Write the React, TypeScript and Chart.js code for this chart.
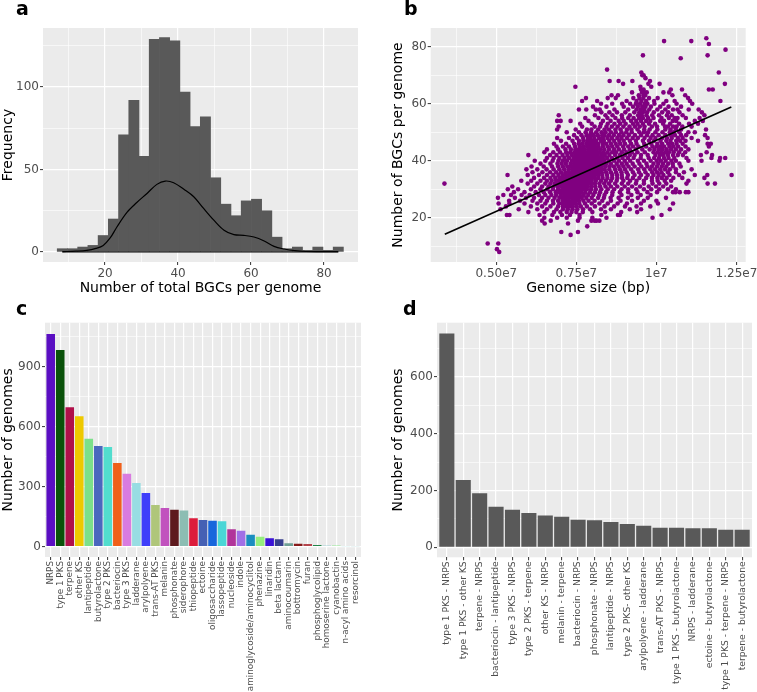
import React, { useEffect, useRef } from "react";
import { Chart, registerables } from "chart.js";

Chart.register(...registerables);

const FONT = "'DejaVu Sans', 'Liberation Sans', Arial, sans-serif";
Chart.defaults.font.family = FONT;

// ---------------- panel a: histogram ----------------
const histBinCenters = [8.3, 11.1, 13.9, 16.7, 19.5, 22.3, 25.1, 27.9, 30.7, 33.5, 36.3, 39.1, 41.9, 44.7, 47.5, 50.3, 53.1, 55.9, 58.7, 61.5, 64.3, 67.1, 69.9, 72.7, 75.5, 78.3, 81.1, 83.9];
const histFrequencies = [2, 2, 3, 4, 10, 20, 71, 92, 58, 129, 130, 128, 97, 76, 82, 45, 29, 22, 31, 32, 25, 9, 2, 3, 1, 3, 1, 3];
const densityX = [8.3, 12, 15, 17.5, 19.5, 21.4, 23.2, 26, 28.7, 31.5, 34.2, 36.5, 38.8, 41.6, 44.3, 47, 49.8, 52.6, 55.3, 58, 60.8, 63.6, 66.3, 69.1, 72, 75, 79, 83.9];
const densityY = [0.2, 0.5, 1.0, 2.2, 4, 8.5, 15, 24, 30, 35.5, 41, 43, 42, 38, 33.5, 26.4, 19.3, 13.2, 10.5, 10.1, 9.1, 6.7, 3.4, 1.8, 0.8, 0.3, 0.2, 0.2];
const aXMajor = [20, 40, 60, 80];
const aXMinor = [10, 30, 50, 70];
const aYMajor = [0, 50, 100];
const aYMinor = [25, 75, 125];

// ---------------- panel b: scatter (BGC count, genome sizes in Mb) ----------------
const bgcRows: [number, number[]][] = [
  [83, [11.56]],
  [82, [10.24, 11.09]],
  [81, [11.64]],
  [79, [12.16]],
  [77, [9.58, 11.6]],
  [76, [10.76]],
  [72, [8.46]],
  [71, [9.53, 11.95]],
  [70, [9.56, 9.6]],
  [69, [9.66]],
  [68, [8.54, 8.82, 9.25, 9.8]],
  [67, [8.96, 9.75, 10.1, 12.14]],
  [66, [7.47, 9.5, 9.84]],
  [65, [9.52, 9.6, 10.45, 10.8, 11.64, 11.76]],
  [64, [9.24, 9.55, 9.62, 9.7, 10.22, 10.4]],
  [63, [8.6, 8.8, 9.45, 9.6, 9.65, 10.5, 10.9]],
  [62, [7.8, 8.48, 8.73, 9.28, 9.47, 9.59, 9.77, 10.04, 10.99]],
  [61, [7.68, 8.15, 9.07, 9.38, 9.53, 9.68, 9.93, 10.31, 10.57, 11.05, 12.0]],
  [60, [8.27, 8.62, 8.93, 9.18, 9.36, 9.49, 9.63, 9.72, 9.94, 10.22, 10.63, 11.12]],
  [59, [8.02, 8.44, 8.98, 9.27, 9.42, 9.56, 9.66, 9.83, 10.12, 10.38, 10.77]],
  [58, [7.58, 7.81, 8.11, 8.23, 8.69, 9.12, 9.38, 9.51, 9.62, 9.78, 10.03, 10.28, 10.52, 10.66, 11.01, 11.32]],
  [57, [8.28, 8.53, 8.77, 9.03, 9.31, 9.47, 9.58, 9.71, 9.92, 10.18, 10.37, 10.72, 11.42]],
  [56, [6.95, 8.08, 8.41, 8.63, 8.92, 9.17, 9.43, 9.54, 9.69, 9.87, 10.08, 10.33, 10.48, 10.82, 11.5]],
  [55, [7.78, 8.19, 8.47, 8.72, 8.93, 9.12, 9.29, 9.46, 9.58, 9.74, 9.91, 10.16, 10.39, 10.57, 10.66, 10.92, 11.35]],
  [54, [6.9, 7.01, 7.32, 7.88, 8.33, 8.57, 8.82, 8.98, 9.21, 9.37, 9.52, 9.68, 9.81, 10.12, 10.24, 10.51, 10.62, 11.2, 11.45]],
  [53, [7.62, 7.98, 8.27, 8.48, 8.69, 8.87, 9.04, 9.27, 9.41, 9.58, 9.77, 9.96, 10.21, 10.43, 10.71, 11.02, 11.3]],
  [52, [6.95, 7.68, 8.07, 8.24, 8.44, 8.61, 8.79, 8.97, 9.16, 9.33, 9.48, 9.63, 9.86, 10.02, 10.27, 10.36, 10.52, 10.63, 10.81, 11.1]],
  [51, [6.9, 7.48, 7.83, 7.97, 8.18, 8.38, 8.52, 8.72, 8.88, 9.08, 9.22, 9.41, 9.62, 9.79, 10.03, 10.28, 10.44, 10.61, 10.77, 11.55]],
  [50, [7.2, 7.58, 7.79, 7.96, 8.12, 8.29, 8.41, 8.58, 8.73, 8.91, 9.06, 9.23, 9.47, 9.61, 9.74, 9.97, 10.19, 10.42, 10.53, 10.72, 11.0, 11.2]],
  [49, [7.43, 7.66, 7.82, 7.93, 8.04, 8.17, 8.31, 8.38, 8.52, 8.67, 8.83, 8.97, 9.14, 9.33, 9.52, 9.71, 9.88, 10.07, 10.28, 10.46, 10.58, 10.77, 10.93, 11.52]],
  [48, [6.9, 7.27, 7.52, 7.71, 7.86, 7.94, 8.06, 8.21, 8.33, 8.47, 8.61, 8.78, 8.91, 9.08, 9.26, 9.42, 9.63, 9.82, 9.97, 10.18, 10.33, 10.48, 10.67, 10.82, 11.1, 11.6]],
  [47, [7.02, 7.38, 7.58, 7.72, 7.84, 7.95, 8.03, 8.12, 8.27, 8.36, 8.53, 8.68, 8.84, 8.98, 9.17, 9.36, 9.58, 9.77, 9.93, 10.13, 10.31, 10.44, 10.62, 10.74, 10.91, 11.3]],
  [46, [6.8, 7.18, 7.43, 7.57, 7.68, 7.81, 7.92, 8.01, 8.09, 8.18, 8.32, 8.43, 8.58, 8.73, 8.87, 9.02, 9.21, 9.38, 9.62, 9.84, 10.03, 10.18, 10.37, 10.49, 10.63, 10.82, 11.6, 11.7]],
  [45, [6.88, 7.08, 7.27, 7.46, 7.61, 7.73, 7.84, 7.92, 7.99, 8.08, 8.19, 8.33, 8.48, 8.62, 8.78, 8.96, 9.12, 9.27, 9.44, 9.68, 9.88, 10.01, 10.12, 10.24, 10.41, 10.53, 10.68, 10.91, 11.64]],
  [44, [6.58, 6.93, 7.16, 7.33, 7.47, 7.57, 7.66, 7.76, 7.87, 7.96, 8.04, 8.13, 8.24, 8.37, 8.52, 8.68, 8.83, 8.99, 9.17, 9.36, 9.56, 9.79, 9.94, 10.08, 10.19, 10.32, 10.46, 10.61, 10.77, 11.0]],
  [43, [6.5, 6.78, 6.99, 7.18, 7.31, 7.44, 7.53, 7.62, 7.71, 7.79, 7.88, 7.97, 8.06, 8.14, 8.23, 8.34, 8.47, 8.62, 8.74, 8.92, 9.07, 9.23, 9.41, 9.64, 9.91, 10.04, 10.16, 10.28, 10.39, 10.54, 10.71, 10.9, 11.57]],
  [42, [6.0, 6.68, 6.88, 7.07, 7.22, 7.36, 7.47, 7.58, 7.66, 7.74, 7.83, 7.92, 8.01, 8.09, 8.17, 8.28, 8.39, 8.53, 8.71, 8.86, 9.02, 9.17, 9.32, 9.52, 9.73, 9.97, 10.11, 10.22, 10.36, 10.52, 10.67, 10.83, 11.39, 11.74]],
  [41, [6.58, 6.79, 6.97, 7.13, 7.27, 7.41, 7.52, 7.61, 7.69, 7.78, 7.86, 7.94, 8.03, 8.12, 8.21, 8.33, 8.46, 8.61, 8.78, 8.94, 9.11, 9.29, 9.51, 9.76, 9.93, 10.08, 10.24, 10.38, 10.56, 10.94, 11.72, 11.99, 12.15]],
  [40, [6.2, 6.53, 6.76, 6.94, 7.08, 7.21, 7.36, 7.46, 7.56, 7.64, 7.72, 7.81, 7.89, 7.98, 8.07, 8.16, 8.26, 8.37, 8.51, 8.68, 8.83, 9.01, 9.18, 9.42, 9.61, 9.82, 10.01, 10.14, 10.29, 10.47, 10.61, 11.0, 11.41, 11.97]],
  [39, [6.38, 6.69, 6.91, 7.04, 7.17, 7.32, 7.43, 7.52, 7.61, 7.69, 7.77, 7.87, 7.96, 8.04, 8.13, 8.22, 8.33, 8.44, 8.58, 8.76, 8.92, 9.07, 9.26, 9.47, 9.69, 9.91, 10.06, 10.21, 10.37, 10.51, 10.72]],
  [38, [6.1, 6.48, 6.74, 6.93, 7.08, 7.22, 7.33, 7.42, 7.51, 7.59, 7.68, 7.76, 7.84, 7.93, 8.02, 8.11, 8.19, 8.29, 8.41, 8.54, 8.67, 8.82, 8.97, 9.13, 9.32, 9.53, 9.72, 9.86, 10.02, 10.17, 10.31, 10.52, 10.76]],
  [37, [5.94, 6.28, 6.57, 6.79, 6.97, 7.12, 7.26, 7.37, 7.47, 7.56, 7.64, 7.73, 7.82, 7.91, 7.99, 8.08, 8.17, 8.27, 8.38, 8.53, 8.71, 8.86, 9.02, 9.21, 9.43, 9.62, 9.81, 9.96, 10.12, 10.27, 10.42, 10.61, 11.1]],
  [36, [6.13, 6.44, 6.68, 6.87, 7.02, 7.16, 7.27, 7.38, 7.48, 7.57, 7.66, 7.74, 7.83, 7.92, 8.01, 8.09, 8.18, 8.29, 8.43, 8.58, 8.74, 8.91, 9.07, 9.27, 9.46, 9.66, 9.87, 10.02, 10.16, 10.36, 10.61, 10.86]],
  [35, [5.35, 5.98, 6.33, 6.58, 6.78, 6.94, 7.07, 7.18, 7.28, 7.38, 7.47, 7.56, 7.64, 7.72, 7.81, 7.89, 7.98, 8.08, 8.19, 8.31, 8.46, 8.62, 8.77, 8.92, 9.11, 9.32, 9.52, 9.73, 9.91, 10.07, 10.22, 10.41, 10.71, 11.2, 11.59, 12.35]],
  [34, [6.18, 6.49, 6.69, 6.84, 6.97, 7.08, 7.18, 7.28, 7.37, 7.46, 7.54, 7.63, 7.71, 7.79, 7.88, 7.97, 8.07, 8.18, 8.32, 8.47, 8.62, 8.78, 8.93, 9.09, 9.27, 9.47, 9.68, 9.86, 10.03, 10.17, 10.32, 10.53, 10.81, 11.5]],
  [33, [5.78, 6.09, 6.38, 6.58, 6.73, 6.87, 6.98, 7.08, 7.17, 7.26, 7.36, 7.44, 7.53, 7.62, 7.71, 7.79, 7.88, 7.98, 8.11, 8.27, 8.42, 8.58, 8.76, 8.97, 9.18, 9.38, 9.61, 9.86, 10.04, 10.26, 10.46, 11.0]],
  [32, [3.38, 5.98, 6.28, 6.53, 6.69, 6.83, 6.96, 7.07, 7.16, 7.24, 7.33, 7.42, 7.51, 7.59, 7.68, 7.77, 7.86, 7.96, 8.08, 8.22, 8.37, 8.52, 8.71, 8.92, 9.12, 9.36, 9.61, 9.88, 10.09, 10.31, 10.94, 11.6, 11.83]],
  [31, [5.5, 6.18, 6.43, 6.63, 6.79, 6.92, 7.03, 7.13, 7.22, 7.31, 7.41, 7.5, 7.58, 7.67, 7.76, 7.86, 7.97, 8.09, 8.24, 8.41, 8.58, 8.78, 9.01, 9.24, 9.49, 9.76, 9.99, 10.21, 10.46]],
  [30, [5.36, 5.68, 6.08, 6.38, 6.59, 6.77, 6.93, 7.06, 7.16, 7.26, 7.36, 7.46, 7.55, 7.64, 7.74, 7.83, 7.96, 8.11, 8.28, 8.48, 8.68, 8.91, 9.12, 9.37, 9.61, 9.84, 10.09, 10.36, 10.61]],
  [29, [5.55, 5.88, 6.23, 6.48, 6.68, 6.86, 6.98, 7.08, 7.17, 7.27, 7.37, 7.46, 7.56, 7.66, 7.78, 7.93, 8.08, 8.24, 8.43, 8.63, 8.86, 9.12, 9.41, 9.72, 10.02, 10.52, 10.6, 10.73, 10.92, 11.0]],
  [28, [5.22, 5.46, 5.79, 6.04, 6.33, 6.53, 6.72, 6.87, 7.01, 7.12, 7.22, 7.32, 7.42, 7.51, 7.61, 7.73, 7.87, 8.03, 8.21, 8.38, 8.62, 8.91, 9.22, 9.51, 9.82]],
  [27, [5.05, 5.58, 5.93, 6.18, 6.43, 6.63, 6.82, 6.97, 7.08, 7.18, 7.27, 7.37, 7.46, 7.56, 7.67, 7.81, 7.98, 8.18, 8.36, 8.57, 8.82, 9.11, 9.42, 9.73, 10.3]],
  [26, [5.4, 5.74, 6.13, 6.38, 6.58, 6.77, 6.93, 7.07, 7.17, 7.27, 7.37, 7.47, 7.58, 7.72, 7.88, 8.07, 8.31, 8.58, 8.88, 9.24, 9.61, 10.0]],
  [25, [5.07, 5.41, 5.88, 6.28, 6.53, 6.78, 6.97, 7.08, 7.18, 7.28, 7.38, 7.48, 7.59, 7.77, 7.98, 8.22, 8.48, 8.79, 9.08, 9.52, 10.05, 10.52]],
  [24, [5.3, 6.08, 6.43, 6.69, 6.93, 7.08, 7.18, 7.29, 7.39, 7.51, 7.64, 7.83, 8.08, 8.38, 8.68, 9.02, 9.38, 9.81]],
  [23, [5.13, 5.7, 6.28, 6.58, 6.88, 7.08, 7.23, 7.38, 7.53, 7.71, 7.93, 8.27, 8.58, 9.17, 9.52, 10.42]],
  [22, [6.0, 6.5, 6.8, 7.0, 7.2, 7.35, 7.5, 7.7, 8.0, 8.4, 8.9, 9.4]],
  [21, [5.33, 5.41, 6.35, 6.75, 7.05, 7.3, 7.6, 8.28, 8.8, 8.86, 10.16]],
  [20, [6.5, 6.9, 7.2, 7.6, 8.0, 8.44, 9.88]],
  [19, [6.43, 6.7, 7.55, 7.97, 8.07, 8.13, 8.22]],
  [18, [6.51, 7.24]],
  [17, [7.84]],
  [15, [7.03, 7.55]],
  [14, [7.32]],
  [11, [4.73, 5.06]],
  [9, [5.02]],
  [8, [5.09]],
];
const bXMajor = [5, 7.5, 10, 12.5];
const bXMajorLabels = ["0.50e7", "0.75e7", "1e7", "1.25e7"];
const bXMinor = [3.75, 6.25, 8.75, 11.25];
const bYMajor = [20, 40, 60, 80];
const bYMinor = [10, 30, 50, 70];
const fitLineX = [3.39, 12.34];
const fitLineY = [14.2, 58.9];

// ---------------- panel c: BGC classes ----------------
const bgcClasses = ["NRPS", "type 1 PKS", "terpene", "other KS", "lantipeptide", "butyrolactone", "type 2 PKS", "bacteriocin", "type 3 PKS", "ladderane", "arylpolyene", "trans-AT PKS", "melanin", "phosphonate", "siderophore", "thiopeptide", "ectoine", "oligosaccharide", "lassopeptide", "nucleoside", "indole", "aminoglycoside/aminocyclitol", "phenazine", "linaridin", "beta lactam", "aminocoumarin", "bottromycin", "furan", "phosphoglycolipid", "homoserine lactone", "cyanobactin", "n-acyl amino acids", "resorcinol"];
const classCounts = [1063, 983, 697, 652, 540, 503, 498, 418, 365, 318, 269, 208, 193, 185, 181, 142, 134, 130, 127, 87, 80, 60, 50, 42, 37, 17, 15, 13, 9, 5, 5, 2, 1];
const classColors = ["#5A0EC2", "#0A520A", "#B0104A", "#EEC900", "#7CE08A", "#4A67BE", "#52DDCE", "#F0601A", "#D97BE0", "#98DDE3", "#3F3FFA", "#AFC67A", "#C152BE", "#5E1A1E", "#8CBDB3", "#DC1C3C", "#4560B4", "#1766DC", "#4AD6D6", "#B1349A", "#A06FE6", "#1A8DBF", "#96EE7E", "#3A12D6", "#373E8E", "#6FA095", "#871A1A", "#B4444C", "#23864A", "#5FB9BE", "#3FE83F", "#B8EAEA", "#D8ECEC"];
const cYMajor = [0, 300, 600, 900];
const cYMinor = [150, 450, 750, 1050];

// ---------------- panel d: class combinations ----------------
const combos = ["type 1 PKS - NRPS", "type 1 PKS - other KS", "terpene - NRPS", "bacteriocin - lantipeptide", "type 3 PKS - NRPS", "type 2 PKS - terpene", "other KS - NRPS", "melanin - terpene", "bacteriocin - NRPS", "phosphonate - NRPS", "lantipeptide - NRPS", "type 2 PKS- other KS", "arylpolyene - ladderane", "trans-AT PKS - NRPS", "type 1 PKS - butyrolactone", "NRPS - ladderane", "ectoine - butyrolactone", "type 1 PKS - terpene - NRPS", "terpene - butyrolactone"];
const comboCounts = [753, 237, 190, 143, 132, 121, 112, 108, 97, 95, 89, 82, 76, 69, 69, 67, 67, 62, 62];
const dYMajor = [0, 200, 400, 600];
const dYMinor = [100, 300, 500, 700];

// ---------------- helpers ----------------
const near = (a: number, b: number) => Math.abs(a - b) < 1e-6;
const isIn = (arr: number[], v: number) => arr.some((m) => near(m, v));

const panelBg = {
  id: "panelBg",
  beforeDraw(chart: any) {
    const { ctx, chartArea: a } = chart;
    ctx.save();
    ctx.fillStyle = "#EBEBEB";
    ctx.fillRect(a.left, a.top, a.right - a.left, a.bottom - a.top);
    ctx.restore();
  },
};

function fixSize(horizontal: boolean, fit: number) {
  return (s: any) => {
    if (horizontal) s.height = fit;
    else s.width = fit;
    s.paddingLeft = 0;
    s.paddingRight = 0;
    s.paddingTop = 0;
    s.paddingBottom = 0;
  };
}

function numAxis(o: any) {
  const { min, max, majors, minors, labels, fit, horizontal, title, titlePad, tickPad } = o;
  const all = [...majors, ...minors].sort((a: number, b: number) => a - b);
  return {
    type: "linear",
    position: horizontal ? "bottom" : "left",
    min,
    max,
    offset: false,
    afterBuildTicks: (s: any) => {
      s.ticks = all.map((v: number) => ({ value: v }));
    },
    afterFit: fixSize(horizontal, fit),
    grid: {
      offset: false,
      color: "#FFFFFF",
      lineWidth: (c: any) => (c.tick && isIn(majors, c.tick.value) ? 1.2 : 0.6),
      drawTicks: true,
      tickLength: 3,
      tickColor: (c: any) => (c.tick && isIn(majors, c.tick.value) ? "#333333" : "rgba(0,0,0,0)"),
      tickWidth: 1,
    },
    border: { display: false },
    ticks: {
      autoSkip: false,
      maxRotation: 0,
      minRotation: 0,
      padding: tickPad,
      color: "#4D4D4D",
      font: { size: 12 },
      callback: (v: number) => {
        const i = majors.findIndex((m: number) => near(m, v));
        if (i < 0) return "";
        return labels ? labels[i] : String(v);
      },
    },
    title: { display: true, text: title, color: "#000000", font: { size: 14 }, padding: titlePad },
  };
}

function catAxis(o: any) {
  const { labels, min, max, fit, fontSize, tickPad } = o;
  return {
    type: "linear",
    position: "bottom",
    min,
    max,
    offset: false,
    afterBuildTicks: (s: any) => {
      s.ticks = labels.map((_: string, i: number) => ({ value: i }));
    },
    afterFit: fixSize(true, fit),
    grid: { offset: false, color: "#FFFFFF", lineWidth: 1.2, drawTicks: true, tickLength: 3, tickColor: "#333333", tickWidth: 1 },
    border: { display: false },
    ticks: {
      autoSkip: false,
      minRotation: 90,
      maxRotation: 90,
      padding: tickPad,
      color: "#4D4D4D",
      font: { size: fontSize },
      callback: (v: number) => labels[Math.round(v)] ?? "",
    },
  };
}

function baseOptions(padding: any, scales: any) {
  return {
    responsive: false,
    maintainAspectRatio: false,
    animation: false,
    events: [],
    layout: { padding },
    plugins: { legend: { display: false }, tooltip: { enabled: false }, title: { display: false } },
    scales,
  };
}

// ---------------- chart configs ----------------
function configA(): any {
  return {
    type: "bar",
    data: {
      datasets: [
        {
          type: "line",
          data: densityX.map((x, i) => ({ x, y: densityY[i] })),
          borderColor: "#000000",
          borderWidth: 1.2,
          pointRadius: 0,
          tension: 0.35,
          fill: false,
        },
        {
          type: "line",
          data: [
            { x: densityX[0], y: 0 },
            { x: densityX[densityX.length - 1], y: 0 },
          ],
          borderColor: "#000000",
          borderWidth: 1.2,
          pointRadius: 0,
          fill: false,
        },
        {
          type: "bar",
          data: histBinCenters.map((x, i) => ({ x, y: histFrequencies[i] })),
          backgroundColor: "#595959",
          borderWidth: 0,
          barPercentage: 1,
          categoryPercentage: 1,
        },
      ],
    },
    options: baseOptions(
      { left: 0, top: 28, right: 20, bottom: 0 },
      {
        x: numAxis({ min: 3.0, max: 89.3, majors: aXMajor, minors: aXMinor, fit: 38, horizontal: true, title: "Number of total BGCs per genome", titlePad: { top: 0, bottom: 3 }, tickPad: 2 }),
        y: numAxis({ min: -6.06, max: 135.8, majors: aYMajor, minors: aYMinor, fit: 43, horizontal: false, title: "Frequency", titlePad: { top: 0, bottom: 0 }, tickPad: 1 }),
      }
    ),
    plugins: [panelBg],
  };
}

function configB(): any {
  const pts: { x: number; y: number }[] = [];
  bgcRows.forEach(([y, xs]) => xs.forEach((x) => pts.push({ x, y })));
  return {
    type: "scatter",
    data: {
      datasets: [
        {
          type: "line",
          data: fitLineX.map((x, i) => ({ x, y: fitLineY[i] })),
          borderColor: "#000000",
          borderWidth: 1.6,
          pointRadius: 0,
          fill: false,
        },
        {
          data: pts,
          backgroundColor: "#800080",
          borderWidth: 0,
          pointRadius: 2.3,
        },
      ],
    },
    options: baseOptions(
      { left: 0, top: 28, right: 11.3, bottom: 0 },
      {
        x: numAxis({ min: 2.95, max: 12.79, majors: bXMajor, minors: bXMinor, labels: bXMajorLabels, fit: 38, horizontal: true, title: "Genome size (bp)", titlePad: { top: 0, bottom: 3 }, tickPad: 2 }),
        y: numAxis({ min: 4.5, max: 86.6, majors: bYMajor, minors: bYMinor, fit: 52.7, horizontal: false, title: "Number of BGCs per genome", titlePad: { top: 12, bottom: 0 }, tickPad: 1 }),
      }
    ),
    plugins: [panelBg],
  };
}

function configC(): any {
  return {
    type: "bar",
    data: {
      datasets: [
        {
          data: classCounts.map((y, i) => ({ x: i, y })),
          backgroundColor: classColors,
          borderWidth: 0,
          barPercentage: 0.9,
          categoryPercentage: 1,
        },
      ],
    },
    options: baseOptions(
      { left: 0, top: 22.7, right: 17, bottom: 0 },
      {
        x: catAxis({ labels: bgcClasses, min: -0.6, max: 32.6, fit: 135, fontSize: 8.8, tickPad: 1 }),
        y: numAxis({ min: -51.5, max: 1120, majors: cYMajor, minors: cYMinor, fit: 45, horizontal: false, title: "Number of genomes", titlePad: { top: 0, bottom: 0 }, tickPad: 1 }),
      }
    ),
    plugins: [panelBg],
  };
}

function configD(): any {
  return {
    type: "bar",
    data: {
      datasets: [
        {
          data: comboCounts.map((y, i) => ({ x: i, y })),
          backgroundColor: "#595959",
          borderWidth: 0,
          barPercentage: 0.92,
          categoryPercentage: 1,
        },
      ],
    },
    options: baseOptions(
      { left: 0, top: 22.7, right: 5, bottom: 0 },
      {
        x: catAxis({ labels: combos, min: -0.6, max: 18.6, fit: 134.7, fontSize: 9.2, tickPad: 1 }),
        y: numAxis({ min: -35.2, max: 790.8, majors: dYMajor, minors: dYMinor, fit: 59, horizontal: false, title: "Number of genomes", titlePad: { top: 12, bottom: 0 }, tickPad: 1 }),
      }
    ),
    plugins: [panelBg],
  };
}

function ChartPanel({ left, top, width, height, make }: { left: number; top: number; width: number; height: number; make: () => any }) {
  const ref = useRef<HTMLCanvasElement | null>(null);
  useEffect(() => {
    const chart = new Chart(ref.current as HTMLCanvasElement, make());
    return () => chart.destroy();
  }, []);
  return <canvas ref={ref} width={width} height={height} style={{ position: "absolute", left, top, width, height }} />;
}

const labelStyle: React.CSSProperties = {
  position: "absolute",
  fontFamily: FONT,
  fontWeight: "bold",
  fontSize: 19,
  lineHeight: "19px",
  color: "#000",
};

export default function App() {
  return (
    <div style={{ position: "absolute", left: 0, top: 0, width: 757, height: 692, background: "#FFFFFF", overflow: "hidden" }}>
      <ChartPanel left={0} top={0} width={378} height={300} make={configA} />
      <ChartPanel left={378} top={0} width={379} height={300} make={configB} />
      <ChartPanel left={0} top={300} width={378} height={392} make={configC} />
      <ChartPanel left={378} top={300} width={379} height={392} make={configD} />
      <div style={{ ...labelStyle, left: 16, top: -1 }}>a</div>
      <div style={{ ...labelStyle, left: 404, top: -1 }}>b</div>
      <div style={{ ...labelStyle, left: 16, top: 299 }}>c</div>
      <div style={{ ...labelStyle, left: 403, top: 299 }}>d</div>
    </div>
  );
}
